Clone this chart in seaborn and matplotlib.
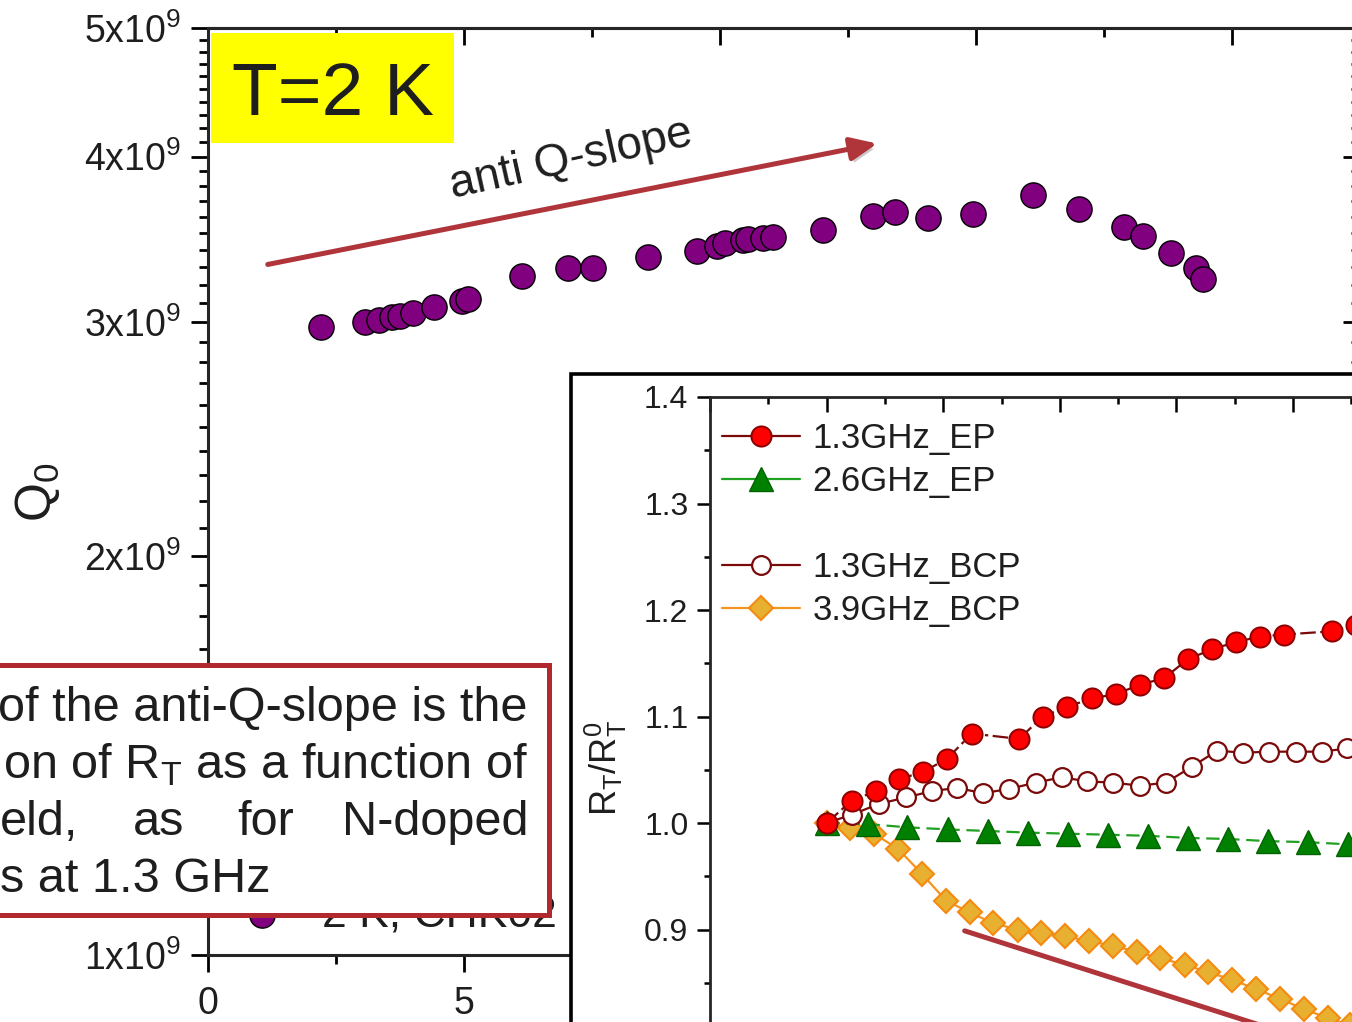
import numpy as np
import matplotlib
matplotlib.use("Agg")
import matplotlib.pyplot as plt
import seaborn as sns
from matplotlib.patches import Rectangle, FancyArrowPatch
from matplotlib.lines import Line2D
from matplotlib.ticker import FixedLocator, MultipleLocator, NullFormatter, FormatStrFormatter
import matplotlib.patheffects as pe

sns.set_style("ticks")
plt.rcParams["font.family"] = ["Liberation Sans", "DejaVu Sans"]
plt.rcParams["mathtext.fontset"] = "custom"
plt.rcParams["mathtext.rm"] = "Liberation Sans"
plt.rcParams["mathtext.it"] = "Liberation Sans:italic"
plt.rcParams["mathtext.bf"] = "Liberation Sans:bold"
plt.rcParams["text.color"] = "#1e1e1e"
plt.rcParams["xtick.color"] = "black"
plt.rcParams["ytick.color"] = "black"
plt.rcParams["xtick.labelcolor"] = "#1e1e1e"
plt.rcParams["ytick.labelcolor"] = "#1e1e1e"

# ---- Q0 vs peak field at 2 K (cavity CHK02) ----
b_peak = [2.21, 3.07, 3.34, 3.59, 3.75, 4.00, 4.41, 4.96, 5.08, 6.13, 7.03, 7.52,
          8.59, 9.55, 9.94, 10.10, 10.45, 10.55, 10.84, 11.04, 12.01, 12.99, 13.42,
          14.06, 14.94, 16.11, 17.01, 17.89, 18.26, 18.81, 19.30, 19.43]
q0_e9 = [2.976, 3.002, 3.012, 3.028, 3.033, 3.049, 3.081, 3.113, 3.124, 3.251, 3.297,
         3.297, 3.360, 3.395, 3.425, 3.443, 3.461, 3.467, 3.473, 3.479, 3.522, 3.608,
         3.633, 3.596, 3.621, 3.743, 3.653, 3.540, 3.485, 3.383, 3.297, 3.234]
q0 = [v * 1e9 for v in q0_e9]
q0_ticks = [1e9, 2e9, 3e9, 4e9, 5e9]
q0_ticklabels = ["1x10$^{9}$", "2x10$^{9}$", "3x10$^{9}$", "4x10$^{9}$", "5x10$^{9}$"]

# ---- normalised temperature-dependent resistance vs field ----
ep13_b = [0, 4.3, 8.5, 12.4, 16.5, 20.6, 24.9, 33.0, 37.1, 41.2, 45.5, 49.6, 53.8,
          57.9, 62.0, 66.1, 70.2, 74.3, 78.4, 86.7, 90.8]
ep13_r = [1.000, 1.021, 1.030, 1.041, 1.048, 1.060, 1.084, 1.079, 1.100, 1.109, 1.117,
          1.121, 1.130, 1.136, 1.154, 1.163, 1.170, 1.175, 1.177, 1.180, 1.186]

ep26_b = [0, 7.1, 13.8, 20.8, 27.7, 34.6, 41.4, 48.3, 55.1, 62.0, 68.9, 75.7, 82.6, 89.4]
ep26_r = [1.000, 0.999, 0.996, 0.994, 0.9925, 0.991, 0.990, 0.989, 0.988, 0.986,
          0.985, 0.983, 0.982, 0.980]

bcp13_b = [0, 4.4, 9.0, 13.6, 18.1, 22.4, 26.8, 31.3, 35.9, 40.4, 44.7, 49.1, 53.8,
           58.2, 62.7, 67.0, 71.4, 75.9, 80.5, 84.9, 89.3]
bcp13_r = [1.000, 1.008, 1.018, 1.024, 1.030, 1.033, 1.028, 1.032, 1.038, 1.043, 1.039,
           1.038, 1.035, 1.038, 1.053, 1.068, 1.066, 1.067, 1.067, 1.067, 1.070]

bcp39_b = [0, 4.0, 8.1, 12.2, 16.4, 20.5, 24.6, 28.5, 32.8, 36.7, 40.9, 45.0, 49.1,
           53.2, 57.2, 61.5, 65.4, 69.5, 73.7, 77.8, 81.9, 86.0, 89.8]
bcp39_r = [1.000, 0.995, 0.990, 0.976, 0.952, 0.927, 0.916, 0.906, 0.900, 0.897, 0.894,
           0.889, 0.885, 0.879, 0.873, 0.867, 0.860, 0.853, 0.844, 0.835, 0.825, 0.817,
           0.810]
inset_labels = ["1.3GHz_EP", "2.6GHz_EP", " ", "1.3GHz_BCP", "3.9GHz_BCP"]
inset_yticks = [0.9, 1.0, 1.1, 1.2, 1.3, 1.4]

W, H = 1352, 1022


def fx(px):
    return px / W


def fy(py):
    return 1 - py / H


fig = plt.figure(figsize=(W / 100, H / 100), dpi=100)
fig.patch.set_facecolor("white")

# ---------------- main panel ----------------
ax = fig.add_axes([fx(208), fy(955), 1152 / W, 927 / H])
ax.set_zorder(0)
sns.scatterplot(x=b_peak, y=q0, ax=ax, s=330, color="#800080", edgecolor="black",
                linewidth=1.0, label="2 K, CHK02", zorder=3)
ax.set_yscale("log")
ax.set_xlim(0, 22.5)
ax.set_ylim(1e9, 5e9)
ax.set_xticks([0, 5, 10, 15, 20])
ax.xaxis.set_minor_locator(MultipleLocator(2.5))
ax.yaxis.set_major_locator(FixedLocator(q0_ticks))
ax.set_yticklabels(q0_ticklabels)
minor_q = [m * 1e8 for m in range(11, 50) if m % 10]
ax.yaxis.set_minor_locator(FixedLocator(minor_q))
ax.yaxis.set_minor_formatter(NullFormatter())
ax.tick_params(which="major", direction="out", length=12.5, width=2.0, labelsize=27,
               pad=7)
ax.tick_params(which="minor", direction="out", length=6.5, width=2.0)
ax.tick_params(axis="x", which="major", pad=10)
for sp in ax.spines.values():
    sp.set_linewidth(2.2)
ax.set_xlabel("")
ax.set_ylabel("")

top = ax.secondary_xaxis("top")
top.set_xticks([0, 5, 10, 15, 20])
top.xaxis.set_minor_locator(MultipleLocator(2.5))
top.tick_params(which="major", direction="in", length=12.5, width=2.0, labeltop=False)
top.tick_params(which="minor", direction="in", length=6.5, width=2.0)
top.spines["top"].set_linewidth(2.2)

right = ax.secondary_yaxis("right")
right.yaxis.set_major_locator(FixedLocator(q0_ticks))
right.yaxis.set_minor_locator(FixedLocator(minor_q))
right.tick_params(which="major", direction="in", length=12.5, width=2.0, labelright=False)
right.tick_params(which="minor", direction="in", length=6.5, width=2.0, labelright=False)
right.spines["right"].set_linewidth(2.2)

ax.legend(loc="lower left", bbox_to_anchor=(fx(240), fy(936)),
          bbox_transform=fig.transFigure, frameon=False, fontsize=32,
          handlelength=1.0, handletextpad=0.85, borderpad=0, borderaxespad=0,
          scatterpoints=1)

fig.text(fx(38), fy(492), r"Q$_\mathrm{0}$", rotation=90, fontsize=36,
         ha="center", va="center")

# label box and trend arrow
fig.add_artist(Rectangle((fx(211), fy(143)), (454 - 211) / W, (143 - 33) / H,
                         transform=fig.transFigure, facecolor="#FFFF00",
                         edgecolor="none", zorder=7))
fig.text(fx(333), fy(115), "T=2 K", fontsize=54, ha="center", va="baseline", zorder=8)

arrow_color = "#B0353B"
shadow = [pe.SimplePatchShadow(offset=(2, -3), shadow_rgbFace="#999999", alpha=0.5),
          pe.Normal()]
fig.add_artist(FancyArrowPatch((fx(265), fy(265)), (fx(880), fy(143)),
                               transform=fig.transFigure,
                               arrowstyle="-|>,head_length=0.8,head_width=0.35",
                               mutation_scale=20, lw=3.6, color=arrow_color,
                               path_effects=shadow, zorder=8))
fig.text(fx(571), fy(160), "anti Q-slope", fontsize=33, rotation=12.5,
         rotation_mode="anchor", ha="center", va="center", zorder=8)

# ---------------- inset panel ----------------
fig.add_artist(Rectangle((fx(570.5), -0.1), 1.0, (1022 - 373.5) / H + 0.1,
                         transform=fig.transFigure, facecolor="white",
                         edgecolor="black", lw=2.6, zorder=5))

axi = fig.add_axes([fx(710), fy(1089.3), 757.9 / W, 692.3 / H])
axi.set_zorder(6)
axi.set_facecolor("none")

sns.lineplot(x=bcp39_b, y=bcp39_r, ax=axi, sort=False, errorbar=None,
             color="#F7941D", lw=1.6, marker="D", markersize=12.5,
             markerfacecolor="#E8B030", markeredgecolor="#F58A10", markeredgewidth=1.5,
             zorder=2)
sns.lineplot(x=ep26_b, y=ep26_r, ax=axi, sort=False, errorbar=None,
             color="#22A022", lw=1.6, linestyle=(0, (6, 3)), marker="^", markersize=17,
             markerfacecolor="#008000", markeredgecolor="#006400", markeredgewidth=1.0,
             zorder=3)
sns.lineplot(x=bcp13_b, y=bcp13_r, ax=axi, sort=False, errorbar=None,
             color="#7A0A0A", lw=1.6, marker="o", markersize=13.5,
             markerfacecolor="white", markeredgecolor="#7A0A0A", markeredgewidth=1.6,
             zorder=4)
sns.lineplot(x=ep13_b, y=ep13_r, ax=axi, sort=False, errorbar=None,
             color="#7A0A0A", lw=1.6, linestyle=(0, (7, 2, 1.5, 2)), marker="o",
             markersize=14.5, markerfacecolor="#FF0000", markeredgecolor="#8B0000",
             markeredgewidth=1.4, zorder=5)

axi.set_xlim(-20, 110)
axi.set_ylim(0.75, 1.4)
axi.set_xlabel("")
axi.set_ylabel("")
axi.xaxis.set_major_locator(MultipleLocator(20))
axi.xaxis.set_minor_locator(MultipleLocator(10))
axi.yaxis.set_major_locator(FixedLocator(inset_yticks))
axi.yaxis.set_minor_locator(MultipleLocator(0.05))
axi.tick_params(axis="x", which="major", direction="in", length=11, width=1.8,
                top=True, bottom=True, labelbottom=False, labeltop=False)
axi.tick_params(axis="x", which="minor", direction="in", length=5, width=1.8,
                top=True, bottom=True)
axi.tick_params(axis="y", which="major", direction="out", length=9.5, width=1.8,
                labelsize=23, pad=6)
axi.tick_params(axis="y", which="minor", direction="out", length=4.5, width=1.8)
axi.yaxis.set_major_formatter(FormatStrFormatter("%.1f"))
for sp in axi.spines.values():
    sp.set_linewidth(2.0)

legend_handles = [
    Line2D([], [], color="#7A0A0A", lw=1.6, marker="o", ms=14.5, mfc="#FF0000",
           mec="#8B0000", mew=1.4),
    Line2D([], [], color="#22A022", lw=1.6, marker="^", ms=17, mfc="#008000",
           mec="#006400"),
    Line2D([], [], linestyle="none", marker="None"),
    Line2D([], [], color="#7A0A0A", lw=1.6, marker="o", ms=13.5, mfc="white",
           mec="#7A0A0A", mew=1.6),
    Line2D([], [], color="#F7941D", lw=1.6, marker="D", ms=12.5, mfc="#E8B030",
           mec="#F58A10", mew=1.5),
]
axi.legend(legend_handles, inset_labels, loc="upper left",
           bbox_to_anchor=(fx(722), fy(422)), bbox_transform=fig.transFigure,
           frameon=False, fontsize=25, handlelength=2.25, handletextpad=0.35,
           labelspacing=0.29, borderpad=0, borderaxespad=0)

fig.text(fx(606), fy(768), r"R$_\mathrm{T}$/R$_\mathrm{T}^\mathrm{0}$", rotation=90,
         fontsize=26, ha="center", va="center", zorder=10)

fig.add_artist(FancyArrowPatch((fx(962), fy(930)), (fx(1562), fy(1121.5)),
                               transform=fig.transFigure,
                               arrowstyle="-|>,head_length=0.8,head_width=0.35",
                               mutation_scale=20, lw=3.6, color=arrow_color,
                               path_effects=shadow, zorder=9))

# ---------------- explanatory note ----------------
fig.add_artist(Rectangle((-0.02, fy(915)), (549 + 0.02 * W) / W, (915 - 665) / H,
                         transform=fig.transFigure, facecolor="white",
                         edgecolor="#B1282F", lw=3.6, zorder=11))
note_kw = dict(fontsize=35, va="baseline", zorder=12)
fig.text(fx(528), fy(721), "of the anti-Q-slope is the", ha="right", **note_kw)
fig.text(fx(528), fy(778), r"on of R$_\mathrm{T}$ as a function of", ha="right",
         **note_kw)
fig.text(fx(0), fy(835), "eld,", ha="left", **note_kw)
fig.text(fx(133), fy(835), "as", ha="left", **note_kw)
fig.text(fx(237), fy(835), "for", ha="left", **note_kw)
fig.text(fx(528), fy(835), "N-doped", ha="right", **note_kw)
fig.text(fx(0), fy(892), "s at 1.3 GHz", ha="left", **note_kw)

fig.savefig("out.png", dpi=100)
